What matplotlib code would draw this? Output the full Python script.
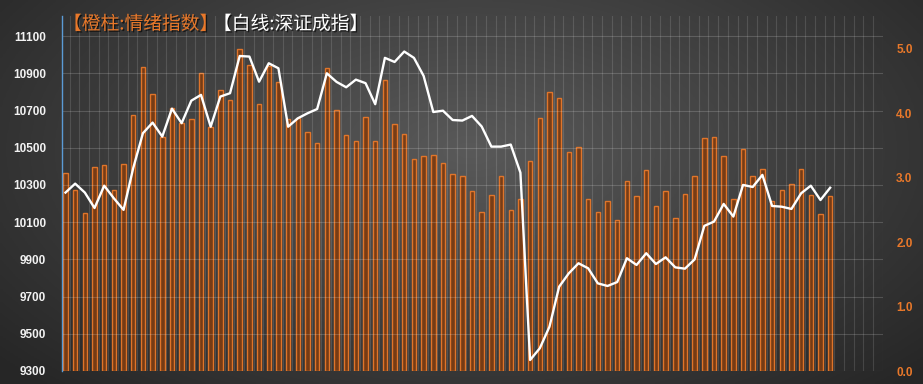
"""
情绪指数 vs 深证成指 双轴图
"""

import matplotlib
matplotlib.use('Agg')
import matplotlib.pyplot as plt
import matplotlib.patheffects as pe
import numpy as np

plt.rcParams['font.family'] = ['Noto Sans CJK SC', 'DejaVu Sans']
plt.rcParams['axes.unicode_minus'] = False

# 橙柱: 情绪指数 (右轴)
mood = [3.07, 2.81, 2.45, 3.17, 3.20, 2.81, 3.21, 3.98, 4.72, 4.30,
        3.63, 4.08, 3.85, 3.91, 4.63, 3.79, 4.36, 4.21, 5.00, 4.75,
        4.14, 4.74, 4.49, 3.91, 3.92, 3.71, 3.54, 4.70, 4.05, 3.66,
        3.57, 3.94, 3.57, 4.52, 3.84, 3.68, 3.29, 3.33, 3.36, 3.23,
        3.05, 3.03, 2.80, 2.47, 2.73, 3.03, 2.50, 2.67, 3.26, 3.92,
        4.33, 4.23, 3.40, 3.48, 2.67, 2.47, 2.64, 2.34, 2.95, 2.71,
        3.12, 2.56, 2.80, 2.37, 2.75, 3.03, 3.61, 3.63, 3.33, 2.67,
        3.45, 3.02, 3.14, 2.64, 2.81, 2.90, 3.14, 2.73, 2.44, 2.71]

# 白线: 深证成指 (左轴)
szci = [10259, 10307, 10259, 10176, 10296, 10228, 10166, 10391, 10578, 10635,
        10560, 10710, 10632, 10753, 10784, 10613, 10775, 10793, 10993, 10990,
        10855, 10954, 10927, 10613, 10658, 10685, 10708, 10900, 10854, 10825,
        10866, 10847, 10734, 10983, 10961, 11017, 10983, 10886, 10692, 10699,
        10649, 10646, 10671, 10614, 10506, 10506, 10517, 10366, 9359, 9422,
        9538, 9753, 9825, 9879, 9852, 9771, 9757, 9778, 9906, 9870,
        9933, 9875, 9911, 9857, 9850, 9900, 10080, 10103, 10198, 10130,
        10300, 10289, 10354, 10187, 10183, 10171, 10255, 10296, 10219, 10285]

left_ticks = [9300, 9500, 9700, 9900, 10100, 10300, 10500, 10700, 10900, 11100]
right_ticks = [0.0, 1.0, 2.0, 3.0, 4.0, 5.0]
n_slots = 85

ORANGE = '#e8782a'

fig = plt.figure(figsize=(9.23, 3.84), dpi=100)

# 背景径向渐变
bg = fig.add_axes([0, 0, 1, 1], zorder=-10)
gx, gy = np.meshgrid(np.linspace(0, 923, 300), np.linspace(0, 384, 150))
r = np.sqrt(((gx - 470) / 620) ** 2 + ((gy - 150) / 330) ** 2)
r = np.clip(r, 0, 1)
shade = 0.35 - 0.20 * r
bg.imshow(np.dstack([shade, shade, shade]), extent=[0, 923, 384, 0], aspect='auto')
bg.set_axis_off()

# 柱状图轴
ax = fig.add_axes([62 / 923, 13 / 384, 821 / 923, 355 / 384])
ax.set_facecolor('none')
x = np.arange(len(mood))
ax.bar(x, mood, width=0.46, color='#7a3c14', edgecolor=ORANGE, linewidth=1.0,
       alpha=0.95, zorder=2)
ax.set_ylim(0, 5.51)
ax.set_xlim(-0.36, n_slots - 0.54)
ax.set_xticks(np.arange(n_slots) + 0.43)
ax.tick_params(axis='x', length=0, labelbottom=False)
ax.grid(True, axis='x', color='white', alpha=0.13, linewidth=0.8)
for s in ax.spines.values():
    s.set_visible(False)

# 折线轴
ax2 = ax.twinx()
ax2.plot(x, szci, color='white', linewidth=1.7, zorder=5)
ax2.set_ylim(9300, 11208)
ax2.grid(True, axis='y', color='white', alpha=0.17, linewidth=0.8)
for s in ax2.spines.values():
    s.set_visible(False)
ax2.spines['left'].set_visible(True)
ax2.spines['left'].set_color('#5b9bd5')
ax2.spines['left'].set_linewidth(1.0)

# 左轴刻度: 深证成指 ; 右轴刻度: 情绪指数 (twinx 之后再设置)
ax2.yaxis.tick_left()
ax2.set_yticks(left_ticks)
ax2.set_yticklabels([str(v) for v in left_ticks])
ax2.tick_params(axis='y', length=0, pad=11.5, labelcolor='#f2f2f2', labelsize=8.5)
for lbl in ax2.get_yticklabels():
    lbl.set_fontweight('bold')
    lbl.set_family('Liberation Sans')

ax.yaxis.tick_right()
ax.set_yticks(right_ticks)
ax.set_yticklabels([f'{v:.1f}' for v in right_ticks])
ax.tick_params(axis='y', length=0, pad=9.5, labelcolor=ORANGE, labelsize=8.5)
for lbl in ax.get_yticklabels():
    lbl.set_fontweight('bold')
    lbl.set_family('Liberation Sans')

# 标题
shadow = [pe.SimplePatchShadow(offset=(1, -1), shadow_rgbFace='black', alpha=0.6), pe.Normal()]
fig.text(63 / 923, 1 - 24 / 384, '【橙柱:情绪指数】', color=ORANGE, fontsize=13.5,
         va='center', ha='left', path_effects=shadow)
fig.text(213 / 923, 1 - 24 / 384, '【白线:深证成指】', color='white', fontsize=13.5,
         va='center', ha='left', path_effects=shadow)

plt.savefig('out.png', dpi=100)
